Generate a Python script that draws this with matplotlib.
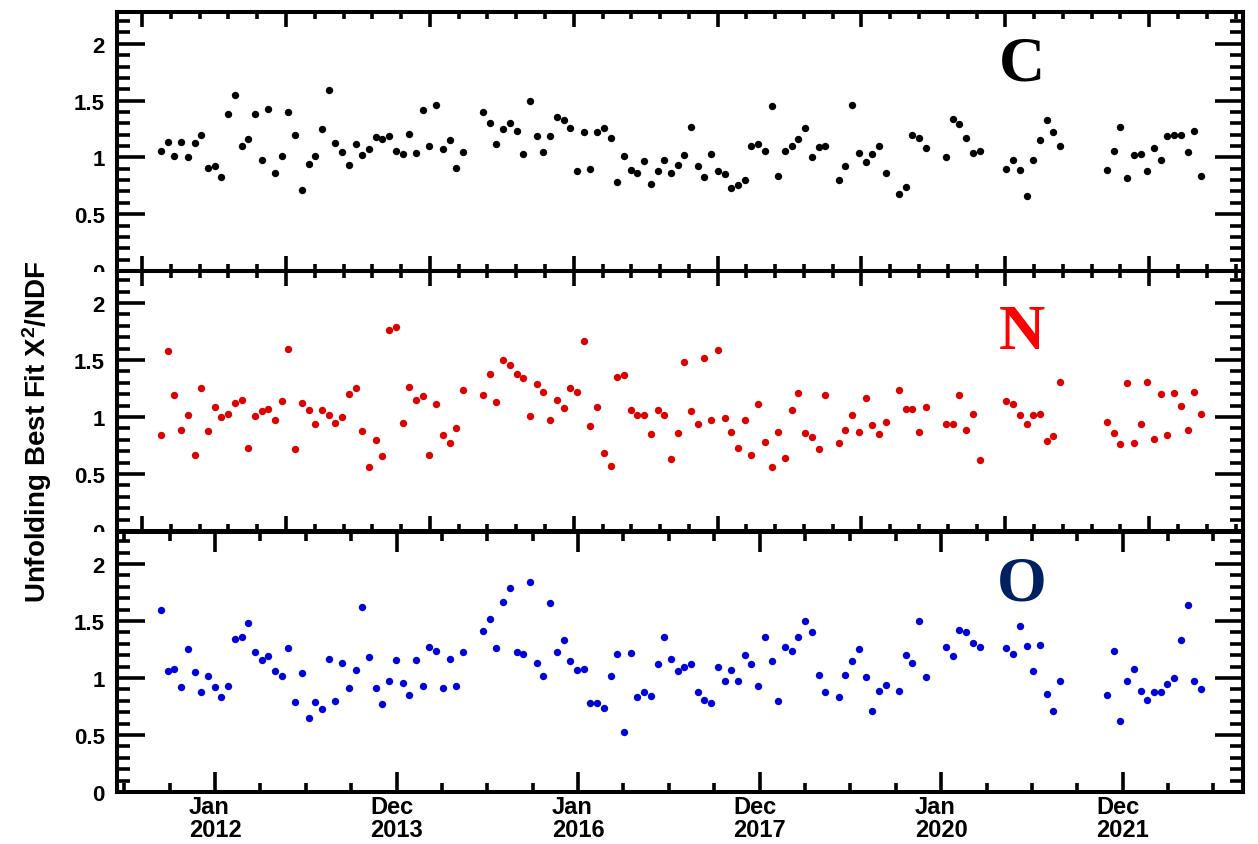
import numpy as np
import pandas as pd
import matplotlib
matplotlib.use('Agg')
import matplotlib.pyplot as plt
import matplotlib.dates as mdates
from matplotlib.ticker import FixedLocator, FixedFormatter, MultipleLocator, FormatStrFormatter
from matplotlib.transforms import Bbox, TransformedBbox

plt.rcParams['font.family'] = ['Liberation Sans', 'DejaVu Sans']

nan = np.nan
# Bartels rotations 2426 ... 2581 (27 day rotations)
bartels = np.arange(2426, 2582)

carbon = [
    1.06, 1.14, 1.01, 1.14, 1.00, 1.13, 1.20, 0.91, 0.92, 0.83,
    1.38, 1.55, 1.10, 1.16, 1.38, 0.98, 1.43, 0.86, 1.01, 1.40,
    1.20, 0.71, 0.94, 1.01, 1.25, 1.59, 1.13, 1.05, 0.93, 1.12,
    1.02, 1.07, 1.18, 1.16, 1.19, 1.06, 1.03, 1.21, 1.04, 1.42,
    1.10, 1.46, 1.07, 1.15, 0.91, 1.05, nan, nan, 1.40, 1.30,
    1.12, 1.25, 1.30, 1.23, 1.03, 1.50, 1.19, 1.05, 1.19, 1.36,
    1.33, 1.26, 0.88, 1.22, 0.90, 1.22, 1.26, 1.17, 0.78, 1.01,
    0.89, 0.86, 0.97, 0.77, 0.88, 0.98, 0.86, 0.93, 1.02, 1.27,
    0.92, 0.83, 1.03, 0.88, 0.85, 0.73, 0.76, 0.80, 1.10, 1.12,
    1.06, 1.45, 0.84, 1.06, 1.10, 1.16, 1.26, 1.00, 1.09, 1.10,
    nan, 0.80, 0.92, 1.46, 1.04, 0.96, 1.03, 1.10, 0.86, nan,
    0.68, 0.74, 1.20, 1.17, 1.08, nan, nan, 1.00, 1.34, 1.29,
    1.17, 1.04, 1.06, nan, nan, nan, 0.90, 0.98, 0.89, 0.66,
    0.98, 1.15, 1.33, 1.22, 1.10, nan, nan, nan, nan, nan,
    nan, 0.89, 1.06, 1.27, 0.82, 1.02, 1.03, 0.88, 1.08, 0.98,
    1.19, 1.20, 1.20, 1.05, 1.23, 0.84,
]

nitrogen = [
    0.84, 1.58, 1.19, 0.89, 1.02, 0.67, 1.25, 0.88, 1.09, 1.00,
    1.03, 1.12, 1.15, 0.73, 1.01, 1.05, 1.07, 0.97, 1.14, 1.60,
    0.72, 1.12, 1.06, 0.94, 1.06, 1.02, 0.95, 1.00, 1.20, 1.25,
    0.88, 0.56, 0.80, 0.66, 1.76, 1.79, 0.95, 1.26, 1.15, 1.18,
    0.67, 1.11, 0.84, 0.77, 0.90, 1.24, nan, nan, 1.19, 1.38,
    1.13, 1.50, 1.46, 1.38, 1.34, 1.01, 1.29, 1.22, 0.97, 1.15,
    1.08, 1.25, 1.22, 1.67, 0.92, 1.09, 0.68, 0.57, 1.35, 1.37,
    1.06, 1.02, 1.02, 0.85, 1.06, 1.02, 0.63, 0.86, 1.48, 1.05,
    0.94, 1.52, 0.97, 1.59, 0.99, 0.87, 0.73, 0.97, 0.67, 1.11,
    0.78, 0.56, 0.87, 0.64, 1.06, 1.21, 0.86, 0.82, 0.72, 1.19,
    nan, 0.77, 0.89, 1.02, 0.87, 1.17, 0.93, 0.85, 0.96, nan,
    1.24, 1.07, 1.07, 0.87, 1.09, nan, nan, 0.94, 0.94, 1.19,
    0.89, 1.03, 0.62, nan, nan, nan, 1.14, 1.11, 1.02, 0.94,
    1.02, 1.03, 0.79, 0.83, 1.31, nan, nan, nan, nan, nan,
    nan, 0.96, 0.86, 0.76, 1.30, 0.77, 0.94, 1.31, 0.81, 1.20,
    0.84, 1.21, 1.10, 0.89, 1.22, 1.03,
]

oxygen = [
    1.60, 1.06, 1.08, 0.92, 1.25, 1.05, 0.88, 1.02, 0.92, 0.83,
    0.93, 1.34, 1.36, 1.48, 1.23, 1.16, 1.19, 1.06, 1.02, 1.26,
    0.79, 1.04, 0.65, 0.79, 0.73, 1.17, 0.80, 1.13, 0.91, 1.07,
    1.62, 1.18, 0.91, 0.77, 0.97, 1.16, 0.96, 0.85, 1.16, 0.93,
    1.27, 1.24, 0.91, 1.17, 0.93, 1.23, nan, nan, 1.41, 1.52,
    1.26, 1.67, 1.79, 1.23, 1.21, 1.84, 1.13, 1.02, 1.66, 1.23,
    1.33, 1.15, 1.07, 1.08, 0.78, 0.78, 0.74, 1.02, 1.21, 0.53,
    1.22, 0.83, 0.88, 0.84, 1.12, 1.36, 1.17, 1.06, 1.10, 1.12,
    0.88, 0.81, 0.78, 1.10, 0.97, 1.07, 0.97, 1.20, 1.12, 0.93,
    1.36, 1.15, 0.80, 1.27, 1.24, 1.36, 1.50, 1.40, 1.03, 0.88,
    nan, 0.83, 1.03, 1.15, 1.25, 1.01, 0.71, 0.89, 0.94, nan,
    0.89, 1.20, 1.13, 1.50, 1.01, nan, nan, 1.27, 1.19, 1.42,
    1.40, 1.31, 1.27, nan, nan, nan, 1.26, 1.21, 1.46, 1.28,
    1.06, 1.29, 0.86, 0.71, 0.97, nan, nan, nan, nan, nan,
    nan, 0.85, 1.24, 0.62, 0.97, 1.08, 0.89, 0.81, 0.88, 0.88,
    0.95, 1.00, 1.33, 1.64, 0.97, 0.90,
]

date_labels = ['Jan\n2012', 'Dec\n2013', 'Jan\n2016', 'Dec\n2017', 'Jan\n2020', 'Dec\n2021']

# middle of each Bartels rotation
br_mid = pd.Timestamp('2011-05-15') + pd.to_timedelta((bartels - 2426) * 27 + 13.5, unit='D')
x = mdates.date2num(br_mid.values)
jan2012 = mdates.date2num(pd.Timestamp('2012-01-01'))

W, H = 1258, 845
fig = plt.figure(figsize=(W / 100, H / 100), dpi=100)
left = 116.5 / W
width = (1242.5 - 116.5) / W
panels = [  # (top px, bottom px)
    (13, 272), (272, 532), (533, 793)]

series = [
    (carbon, '#000000', 'C', '#000000', 0.741),
    (nitrogen, '#dd0000', 'N', '#ff0000', 0.703),
    (oxygen, '#0000dd', 'O', '#002060', 0.742),
]

xmin, xmax = x[0] - 179.1, x[0] + 4352
axes = []
for k, ((top, bot), (vals, col, name, ncol, ny)) in enumerate(zip(panels, series)):
    ax = fig.add_axes([left, 1 - bot / H, width, (bot - top) / H])
    axes.append(ax)
    ax.plot(x, vals, linestyle='none', marker='o', ms=5.3, mew=0, color=col)
    ax.set_xlim(xmin, xmax)
    ax.set_ylim(0, 2.28)
    ax.text(0.804, ny, name, transform=ax.transAxes, ha='center', va='baseline',
            fontsize=46, fontweight='bold', color=ncol, family='Liberation Serif')

    ax.yaxis.set_major_locator(MultipleLocator(0.5))
    ax.yaxis.set_minor_locator(MultipleLocator(0.1))
    ax.yaxis.set_major_formatter(FormatStrFormatter('%g'))

    if k < 2:
        major = [jan2012 - 293.7 + i * 579.0 for i in range(8)]
        minor = [jan2012 - 293.7 + i * 115.8 for i in range(-1, 40)]
        ax.xaxis.set_major_locator(FixedLocator(major))
        ax.xaxis.set_minor_locator(FixedLocator([m for m in minor if xmin < m < xmax]))
        ax.set_xticklabels([])
        xl, xs = 11, 5
    else:
        major = [jan2012 + i * 730.44 for i in range(6)]
        minor = [jan2012 + i * 730.44 / 4 for i in range(-2, 26)]
        ax.xaxis.set_major_locator(FixedLocator(major))
        ax.xaxis.set_major_formatter(FixedFormatter(date_labels))
        ax.xaxis.set_minor_locator(FixedLocator([m for m in minor if xmin < m < xmax]))
        xl, xs = 14.5, 6.5

    ax.tick_params(axis='both', which='both', direction='in', top=True, right=True, width=2.6)
    ax.tick_params(axis='y', which='major', length=20, pad=8.5, labelsize=16)
    ax.tick_params(axis='y', which='minor', length=9.5)
    ax.tick_params(axis='x', which='major', length=xl, pad=2.5, labelsize=17)
    ax.tick_params(axis='x', which='minor', length=xs)
    for lbl in ax.get_xticklabels() + ax.get_yticklabels():
        lbl.set_fontweight('bold')
    for lbl in ax.get_xticklabels():
        lbl.set_multialignment('left')
        lbl.set_linespacing(1.0)
    for sp in ax.spines.values():
        sp.set_linewidth(2.9)

fig.text(37 / W, 1 - 431.5 / H, r'Unfolding Best Fit $\mathregular{X^{2}}$/NDF',
         rotation=90, ha='center', va='center', fontsize=20, fontweight='bold')

fig.canvas.draw()
# the lower pads hide the bottom of the "0" label of the pads above
for ax, (top, bot) in zip(axes[:2], panels[:2]):
    clip = TransformedBbox(Bbox([[0, 1 - (bot + 1) / H], [1, 1]]), fig.transFigure)
    for t in ax.yaxis.get_major_ticks():
        t.label1.set_clip_box(clip)
        t.label1.set_clip_on(True)

fig.savefig('out.png', dpi=100)
